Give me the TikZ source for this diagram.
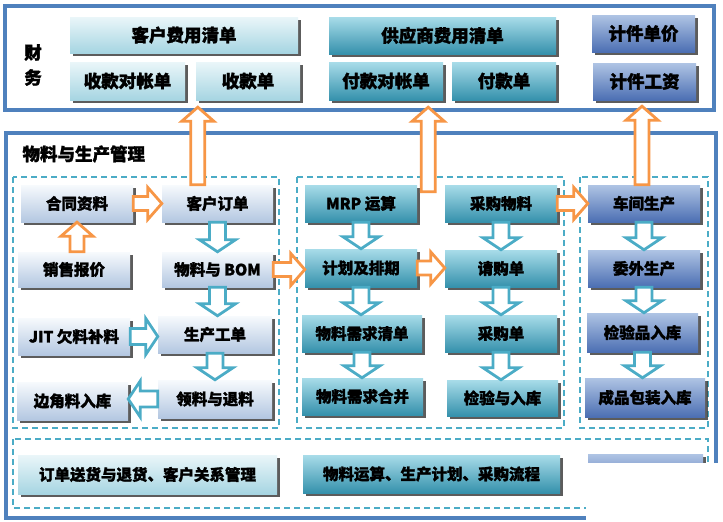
\documentclass[tikz,border=0pt]{standalone}
\usepackage{fontspec}
\setmainfont{Noto Sans CJK SC}[BoldFeatures={FakeBold=1.6}]
\usetikzlibrary{calc,shadows}
\definecolor{frameblue}{HTML}{4F81BD}
\definecolor{dashteal}{HTML}{4BACC6}
\definecolor{arrorange}{HTML}{F79646}
\definecolor{arrblue}{HTML}{4BACC6}
\definecolor{lcA}{HTML}{EAF6F9}
\definecolor{lcB}{HTML}{A6D5E2}
\definecolor{tlA}{HTML}{A8DCE9}
\definecolor{tlB}{HTML}{5DB8D0}
\definecolor{tlC}{HTML}{3591AC}
\definecolor{blA}{HTML}{AFC4E4}
\definecolor{blB}{HTML}{7E9ED3}
\definecolor{blC}{HTML}{4C6FB3}
\definecolor{gbA}{HTML}{F7FAFD}
\definecolor{gbB}{HTML}{B3C7E1}
\newcommand\bx[7]{\node[#1,minimum width={#5-#3},minimum height={#6-#4}] (#2) at ({(#3+#5)/2},{(#4+#6)/2}) {#7};}
\def\aSW{8pt}\def\aHW{18pt}\def\aHL{12pt}
\newcommand\arrdown[3]{\draw[#1] let \p1=(#2),\p2=(#3) in (\x1-\aSW,\y1) -- (\x1-\aSW,\y2+\aHL) -- (\x1-\aHW,\y2+\aHL) -- (\x1,\y2) -- (\x1+\aHW,\y2+\aHL) -- (\x1+\aSW,\y2+\aHL) -- (\x1+\aSW,\y1) -- cycle;}
\newcommand\arrup[3]{\draw[#1] let \p1=(#2),\p2=(#3) in (\x1-\aSW,\y1) -- (\x1-\aSW,\y2-\aHL) -- (\x1-\aHW,\y2-\aHL) -- (\x1,\y2) -- (\x1+\aHW,\y2-\aHL) -- (\x1+\aSW,\y2-\aHL) -- (\x1+\aSW,\y1) -- cycle;}
\newcommand\arrright[3]{\draw[#1] let \p1=(#2),\p2=(#3) in (\x1,\y1-\aSW) -- (\x2-\aHL,\y1-\aSW) -- (\x2-\aHL,\y1-\aHW) -- (\x2,\y1) -- (\x2-\aHL,\y1+\aHW) -- (\x2-\aHL,\y1+\aSW) -- (\x1,\y1+\aSW) -- cycle;}
\newcommand\arrleft[3]{\draw[#1] let \p1=(#2),\p2=(#3) in (\x1,\y1-\aSW) -- (\x2+\aHL,\y1-\aSW) -- (\x2+\aHL,\y1-\aHW) -- (\x2,\y1) -- (\x2+\aHL,\y1+\aHW) -- (\x2+\aHL,\y1+\aSW) -- (\x1,\y1+\aSW) -- cycle;}
\begin{document}
\begin{tikzpicture}[x=1pt,y=-1pt,
  box/.style={rectangle, inner sep=0pt, text=black, font=\bfseries\fontsize{15.5}{16}\selectfont,
    drop shadow={shadow xshift=2.5pt,shadow yshift=-2.5pt,fill=black!75,opacity=0.85}},
  fbox/.style={box, font=\bfseries\fontsize{17.5}{17}\selectfont},
  lcbox/.style={top color=lcA, bottom color=lcB},
  tlbox/.style={top color=tlA, middle color=tlB, bottom color=tlC},
  blbox/.style={top color=blA, middle color=blB, bottom color=blC},
  gbbox/.style={top color=gbA, bottom color=gbB},
  dashbox/.style={draw=dashteal, line width=1.2pt, dash pattern=on 6pt off 4pt},
  orarr/.style={draw=arrorange, fill=white, line width=2.8pt, line join=miter},
  blarr/.style={draw=arrblue, fill=white, line width=2.8pt, line join=miter},
  frame/.style={draw=frameblue, line width=3.5pt}
]
\useasboundingbox (0,0) rectangle (723,522);
\fill[white] (0,0) rectangle (723,522);
% frames
\draw[frame] (5,6) rectangle (714,110);
\draw[frame] (6,133) rectangle (716,518);
\node[font=\bfseries\fontsize{17.5}{25}\selectfont, align=center] (caiwu) at (33,65) {财\\务};
\node[anchor=west, font=\bfseries\fontsize{17.5}{17}\selectfont] (title) at (19,154) {物料与生产管理};
% dashed groups
\draw[dashbox] (13,177) rectangle (279,428);
\draw[dashbox] (297,177) rectangle (564,428);
\draw[dashbox] (580,177) rectangle (708,428);
\draw[dashbox] (13,439) rectangle (708,508);
% finance boxes
\bx{fbox,lcbox}{kehufy}{70}{17}{298}{53}{客户费用清单}
\bx{fbox,lcbox}{shoudz}{70}{62}{185}{100}{收款对帐单}
\bx{fbox,lcbox}{shoukuan}{196}{62}{300}{100}{收款单}
\bx{fbox,tlbox}{gongfy}{329}{17}{556}{54}{供应商费用清单}
\bx{fbox,tlbox}{fudz}{329}{62}{443}{100}{付款对帐单}
\bx{fbox,tlbox}{fukuan}{452}{62}{556}{100}{付款单}
\bx{fbox,blbox}{jjdj}{592}{15}{695}{52}{计件单价}
\bx{fbox,blbox}{jjgz}{593}{63}{696}{100}{计件工资}
% group 1
\bx{box,gbbox}{hetong}{21}{185}{133}{222}{合同资料}
\bx{box,gbbox}{kehudd}{162}{185}{273}{222}{客户订单}
\bx{box,gbbox}{baojia}{18}{252}{130}{287}{销售报价}
\bx{box,gbbox}{bom}{162}{252}{273}{287}{物料与 BOM}
\bx{box,gbbox}{jit}{18}{318}{130}{355}{JIT 欠料补料}
\bx{box,gbbox}{scgd}{158}{316}{272}{353}{生产工单}
\bx{box,gbbox}{bianjiao}{17}{382}{128}{420}{边角料入库}
\bx{box,gbbox}{lingliao}{158}{380}{272}{418}{领料与退料}
% group 2
\bx{box,tlbox}{mrp}{305}{185}{417}{222}{MRP 运算}
\bx{box,tlbox}{cgwl}{445}{185}{557}{222}{采购物料}
\bx{box,tlbox}{jhpq}{305}{249}{417}{287}{计划及排期}
\bx{box,tlbox}{qgd}{445}{250}{557}{287}{请购单}
\bx{box,tlbox}{xqqd}{302}{315}{422}{352}{物料需求清单}
\bx{box,tlbox}{cgd}{445}{315}{557}{352}{采购单}
\bx{box,tlbox}{xqhb}{302}{378}{423}{415}{物料需求合并}
\bx{box,tlbox}{jyrk}{447}{380}{558}{416}{检验与入库}
% group 3
\bx{box,blbox}{cjsc}{588}{185}{700}{222}{车间生产}
\bx{box,blbox}{wwsc}{588}{250}{700}{287}{委外生产}
\bx{box,blbox}{jypr}{587}{313}{698}{352}{检验品入库}
\bx{box,blbox}{cpbz}{585}{378}{705}{417}{成品包装入库}
% bottom
\bx{box,lcbox}{b1}{18}{455}{277}{494}{订单送货与退货、客户关系管理}
\bx{box,tlbox}{b2}{303}{455}{560}{493}{物料运算、生产计划、采购流程}
\bx{box,blbox}{b3}{588}{454}{703}{490}{}
% blue arrows
\arrdown{blarr}{kehudd.south}{bom.north}
\arrdown{blarr}{bom.south}{scgd.north}
\arrdown{blarr}{scgd.south}{lingliao.north}
\arrright{blarr}{jit.east}{scgd.west}
\arrleft{blarr}{lingliao.west}{bianjiao.east}
\arrdown{blarr}{mrp.south}{jhpq.north}
\arrdown{blarr}{jhpq.south}{xqqd.north}
\arrdown{blarr}{xqqd.south}{xqhb.north}
\arrdown{blarr}{cgwl.south}{qgd.north}
\arrdown{blarr}{qgd.south}{cgd.north}
\arrdown{blarr}{cgd.south}{jyrk.north}
\arrdown{blarr}{cjsc.south}{wwsc.north}
\arrdown{blarr}{wwsc.south}{jypr.north}
\arrdown{blarr}{jypr.south}{cpbz.north}
% orange arrows
\def\aSW{7pt}\def\aHW{16pt}\def\aHL{14pt}
\arrright{orarr}{hetong.east}{kehudd.west}
\arrup{orarr}{baojia.north -| hetong.south}{hetong.south}
\arrright{orarr}{bom.east}{jhpq.west}
\arrright{orarr}{jhpq.east}{qgd.west}
\arrright{orarr}{cgwl.east}{cjsc.west}
\coordinate (f1) at ($(kehudd.north west)+(36,0)$);
\coordinate (f1e) at ($(f1 |- shoukuan.south)+(0,7)$);
\arrup{orarr}{f1}{f1e}
\coordinate (f2) at ($(mrp.north east)+(11,7)$);
\coordinate (f2e) at ($(f2 |- fudz.south)+(0,7)$);
\arrup{orarr}{f2}{f2e}
\coordinate (f3) at ($(cjsc.north)+(-2,0)$);
\coordinate (f3e) at ($(f3 |- jjgz.south)+(0,6)$);
\arrup{orarr}{f3}{f3e}
% cut-off corner
\fill[white] (586,463) rectangle (723,522);
\end{tikzpicture}
\end{document}
